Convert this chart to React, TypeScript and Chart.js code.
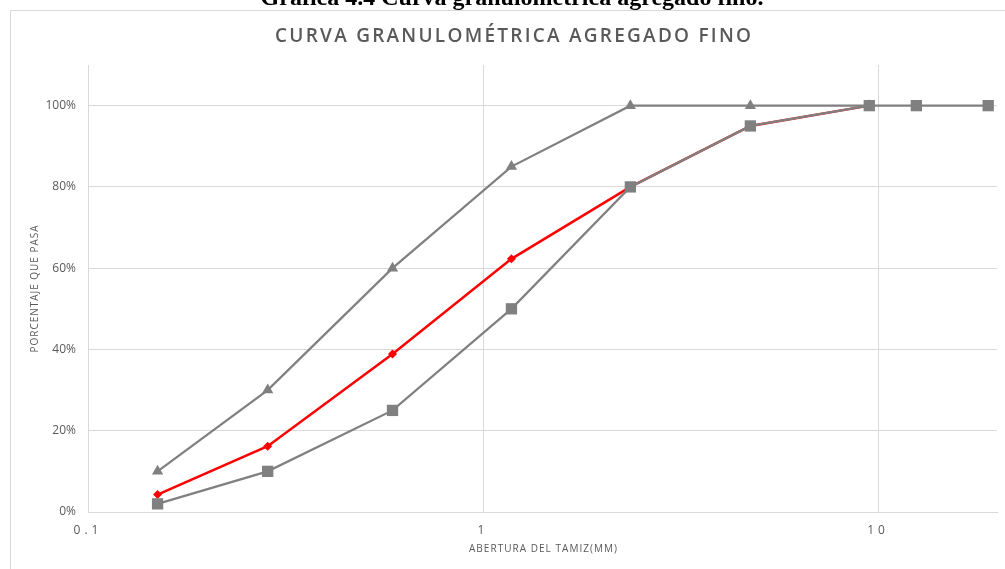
import { useEffect, useRef } from "react";
import { Chart, registerables } from "chart.js";

Chart.register(...registerables);

// Sieve openings (mm) and percentage passing for each curve
const sieveSizes = [0.15, 0.285, 0.59, 1.18, 2.36, 4.75, 9.5, 12.5, 19];
const lowerLimit = [2, 10, 25, 50, 80, 95, 100, 100, 100];
const upperLimit = [10, 30, 60, 85, 100, 100, 100];
const sampleCurve = [4.3, 16.2, 38.9, 62.3, 80, 95, 100];

const xTicks = [0.1, 1, 10];
const yTicks = [0, 20, 40, 60, 80, 100];

const caption = "Gráfica 4.4 Curva granulométrica agregado fino.";
const chartTitle = "CURVA GRANULOMÉTRICA AGREGADO FINO";
const xTitle = "ABERTURA DEL TAMIZ(MM)";
const yTitle = "PORCENTAJE QUE PASA";

const GRAY = "#808080";
const RED = "#ff0000";
const GRID = "#d9d9d9";
const TEXT = "#595959";

const toPoints = (values: number[]) =>
  values.map((y, i) => ({ x: sieveSizes[i], y }));

function drawSpaced(
  ctx: CanvasRenderingContext2D,
  text: string,
  cx: number,
  cy: number,
  width: number,
  font: string
) {
  ctx.font = font;
  (ctx as any).letterSpacing = "0px";
  const w = ctx.measureText(text).width;
  const sp = (width - w) / Math.max(1, text.length - 1);
  (ctx as any).letterSpacing = sp + "px";
  ctx.textAlign = "left";
  ctx.textBaseline = "middle";
  ctx.fillText(text, cx - width / 2, cy);
  (ctx as any).letterSpacing = "0px";
}

const decorations = {
  id: "decorations",
  afterDatasetsDraw(chart: Chart) {
    // x tick labels are drawn on the layer after datasets, spaced out
    (chart.ctx as any).letterSpacing = "4px";
  },
  afterDraw(chart: Chart) {
    const ctx = chart.ctx;
    ctx.save();
    (ctx as any).letterSpacing = "0px";

    // outer frame
    ctx.strokeStyle = GRID;
    ctx.lineWidth = 1;
    ctx.beginPath();
    ctx.moveTo(10.5, 569);
    ctx.lineTo(10.5, 10.5);
    ctx.lineTo(1005, 10.5);
    ctx.stroke();

    // figure caption
    ctx.fillStyle = "#000";
    ctx.font = 'bold 24px "Liberation Serif"';
    ctx.textAlign = "center";
    ctx.textBaseline = "alphabetic";
    ctx.fillText(caption, 512, 5);

    ctx.fillStyle = TEXT;
    drawSpaced(ctx, chartTitle, 513, 37, 476, '600 19px "Open Sans"');
    drawSpaced(ctx, xTitle, 543, 549, 148, '10px "Open Sans"');

    ctx.save();
    ctx.translate(35, 289);
    ctx.rotate(-Math.PI / 2);
    drawSpaced(ctx, yTitle, 0, 0, 127, '10px "Open Sans"');
    ctx.restore();

    ctx.restore();
  },
};

export default function App() {
  const canvasRef = useRef<HTMLCanvasElement | null>(null);

  useEffect(() => {
    if (!canvasRef.current) return;
    const chart = new Chart(canvasRef.current, {
      type: "line",
      data: {
        datasets: [
          {
            label: "Límite inferior",
            data: toPoints(lowerLimit),
            borderColor: GRAY,
            backgroundColor: GRAY,
            borderWidth: 2.25,
            pointStyle: "rect",
            pointRadius: 8,
            pointBorderWidth: 0,
          },
          {
            label: "Límite superior",
            data: toPoints(upperLimit),
            borderColor: GRAY,
            backgroundColor: GRAY,
            borderWidth: 2.25,
            pointStyle: "triangle",
            pointRadius: 6.5,
            pointBorderWidth: 0,
          },
          {
            label: "Muestra",
            data: toPoints(sampleCurve),
            borderColor: RED,
            backgroundColor: RED,
            borderWidth: 2.5,
            pointStyle: "rectRot",
            pointRadius: 4.5,
            pointBorderWidth: 0,
          },
        ],
      },
      options: {
        responsive: false,
        animation: false,
        devicePixelRatio: 1,
        layout: { padding: { top: 65, right: 8, left: 0, bottom: 0 } },
        plugins: {
          legend: { display: false },
          title: { display: false },
          tooltip: { enabled: false },
        },
        elements: { line: { tension: 0 } },
        scales: {
          x: {
            type: "logarithmic",
            min: 0.1,
            max: 20,
            afterBuildTicks: (s: any) => {
              s.ticks = xTicks.map((v) => ({ value: v }));
            },
            afterFit: (s: any) => {
              s.height = 57;
            },
            grid: { color: GRID, lineWidth: 1, drawTicks: false },
            border: { color: GRID, width: 1 },
            ticks: {
              z: 1,
              padding: 11,
              color: TEXT,
              autoSkip: false,
              maxRotation: 0,
              font: { family: '"Open Sans"', size: 12 },
              callback: (v: any) => String(v),
            },
          },
          y: {
            type: "linear",
            min: 0,
            max: 110,
            afterBuildTicks: (s: any) => {
              s.ticks = yTicks.map((v) => ({ value: v }));
            },
            afterFit: (s: any) => {
              s.width = 88;
            },
            grid: { color: GRID, lineWidth: 1, drawTicks: false },
            border: { color: GRID, width: 1 },
            ticks: {
              padding: 12,
              color: TEXT,
              font: { family: '"Open Sans"', size: 12 },
              callback: (v: any) => v + "%",
            },
          },
        },
      },
      plugins: [decorations],
    });
    return () => chart.destroy();
  }, []);

  return (
    <div
      style={{
        position: "fixed",
        left: 0,
        top: 0,
        width: 1005,
        height: 569,
        background: "#fff",
      }}
    >
      <canvas ref={canvasRef} width={1005} height={569} />
    </div>
  );
}
